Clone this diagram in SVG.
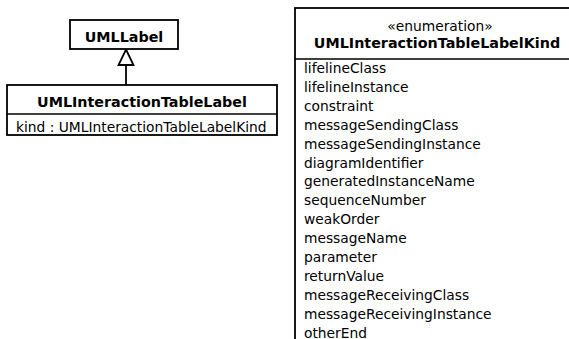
<svg xmlns="http://www.w3.org/2000/svg" width="569" height="339" viewBox="0 0 569 339">
<style>
.box{fill:#fff;stroke:#000;stroke-width:1.8}
.sep{stroke:#000;stroke-width:1.4;fill:none}
.t{font-family:"DejaVu Sans",Verdana,sans-serif;font-size:13.8px;fill:#000}
.b{font-family:"DejaVu Sans",Verdana,sans-serif;font-size:14.3px;font-weight:bold;fill:#000}
.c{text-anchor:middle}
.edge{stroke:#000;stroke-width:1.8;fill:none}
</style>
<defs>
<marker id="gen" markerWidth="18" markerHeight="20" refX="8" refY="1" orient="auto" markerUnits="userSpaceOnUse" viewBox="0 0 18 20">
<path d="M8,1 L15.5,17 L0.5,17 Z" fill="#fff" stroke="#000" stroke-width="1.8"/>
</marker>
</defs>
<rect width="569" height="339" fill="#fff"/>
<g id="connectors">
<path class="edge" d="M126,65 L126,85"/>
<path d="M126,49.5 L133.5,65 L118.5,65 Z" fill="#fff" stroke="#000" stroke-width="1.8"/>
</g>
<g id="UMLLabel">
<rect class="box" x="70" y="20" width="108" height="29"/>
<text class="b c" x="124" y="42">UMLLabel</text>
</g>
<g id="UMLInteractionTableLabel">
<rect class="box" x="7" y="85" width="270" height="50"/>
<line class="sep" x1="7" y1="114" x2="277" y2="114"/>
<text class="b c" x="142" y="107">UMLInteractionTableLabel</text>
<text class="t" x="16" y="132">kind : UMLInteractionTableLabelKind</text>
</g>
<g id="UMLInteractionTableLabelKind">
<rect class="box" x="295" y="8" width="285" height="345"/>
<line class="sep" x1="295" y1="59" x2="580" y2="59"/>
<text class="t c" x="440" y="31">«enumeration»</text>
<text class="b c" x="437" y="48">UMLInteractionTableLabelKind</text>
<text class="t" x="304" y="73">lifelineClass</text>
<text class="t" x="304" y="91.9">lifelineInstance</text>
<text class="t" x="304" y="110.8">constraint</text>
<text class="t" x="304" y="129.7">messageSendingClass</text>
<text class="t" x="304" y="148.6">messageSendingInstance</text>
<text class="t" x="304" y="167.5">diagramIdentifier</text>
<text class="t" x="304" y="186.4">generatedInstanceName</text>
<text class="t" x="304" y="205.3">sequenceNumber</text>
<text class="t" x="304" y="224.2">weakOrder</text>
<text class="t" x="304" y="243.1">messageName</text>
<text class="t" x="304" y="262">parameter</text>
<text class="t" x="304" y="280.9">returnValue</text>
<text class="t" x="304" y="299.8">messageReceivingClass</text>
<text class="t" x="304" y="318.7">messageReceivingInstance</text>
<text class="t" x="304" y="337.6">otherEnd</text>
</g>
</svg>
